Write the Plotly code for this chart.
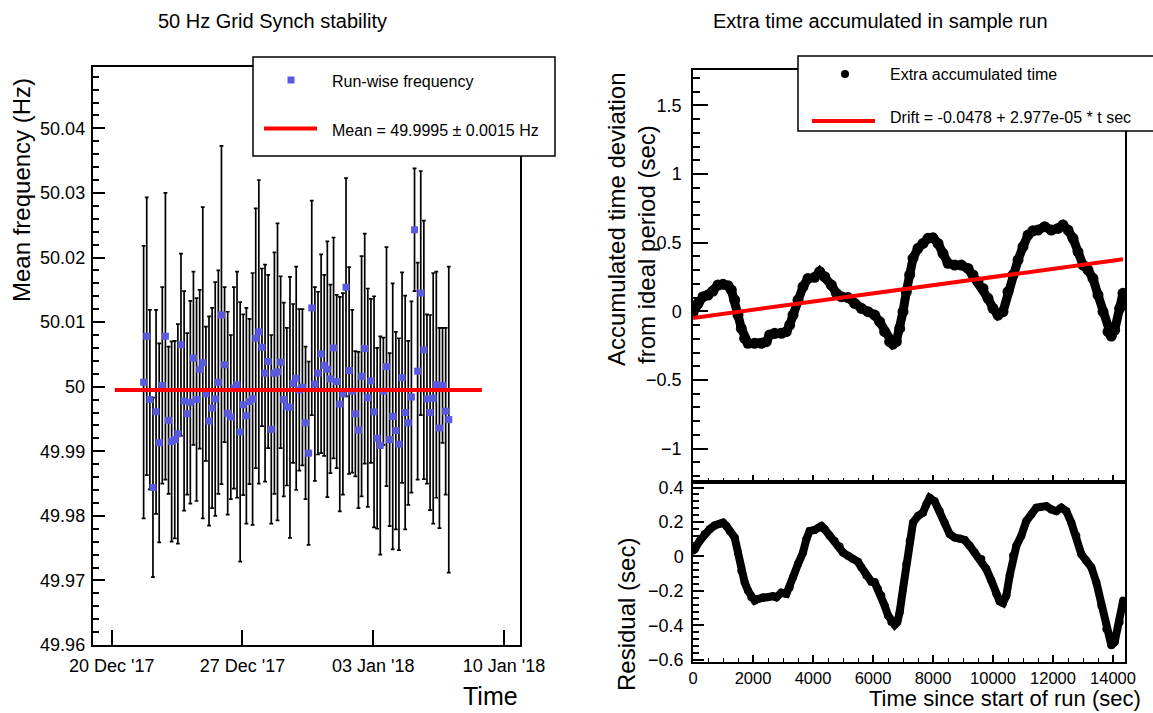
import plotly.graph_objects as go
import pandas as pd

W, H = 1153, 713

# ---------------- left panel data ----------------
run_start = "2017-12-21 17:00"
run_step = "4h"
freq = [50.0007, 50.0078, 49.9980, 49.9844, 49.9961, 49.9913, 50.0002, 50.0078, 49.9948, 49.9915,
        49.9918, 49.9927, 50.0065, 49.9978, 49.9958, 49.9976, 50.0044, 49.9980, 50.0027, 50.0037,
        49.9989, 49.9947, 49.9967, 49.9981, 50.0007, 50.0111, 50.0034, 49.9959, 49.9953, 49.9998,
        50.0003, 49.9930, 49.9972, 49.9955, 49.9977, 49.9981, 50.0075, 50.0085, 50.0061, 50.0021,
        50.0039, 49.9934, 50.0021, 50.0023, 50.0038, 49.9980, 49.9969, 49.9968, 50.0005, 50.0013,
        49.9995, 49.9999, 49.9944, 49.9897, 50.0122, 50.0004, 50.0021, 50.0051, 50.0033, 50.0027,
        50.0012, 50.0060, 50.0008, 49.9973, 49.9989, 50.0154, 50.0025, 49.9993, 49.9958, 49.9933,
        50.0016, 50.0059, 49.9983, 50.0009, 49.9961, 49.9920, 49.9909, 49.9993, 50.0031, 49.9918,
        49.9954, 49.9932, 49.9911, 50.0014, 49.9960, 49.9944, 49.9984, 50.0243, 50.0024, 50.0145,
        50.0057, 49.9981, 49.9960, 49.9982, 50.0003, 49.9936, 50.0002, 49.9962, 49.9949]
freq_err = [0.0211, 0.0215, 0.0139, 0.0139, 0.0158, 0.0154, 0.0152, 0.0222, 0.0114, 0.0155,
            0.0153, 0.0170, 0.0141, 0.0170, 0.0125, 0.0157, 0.0134, 0.0157, 0.0123, 0.0241,
            0.0104, 0.0162, 0.0155, 0.0181, 0.0173, 0.0262, 0.0120, 0.0157, 0.0127, 0.0156,
            0.0175, 0.0201, 0.0140, 0.0167, 0.0128, 0.0195, 0.0201, 0.0235, 0.0122, 0.0168,
            0.0134, 0.0146, 0.0187, 0.0230, 0.0133, 0.0150, 0.0122, 0.0202, 0.0123, 0.0173,
            0.0125, 0.0121, 0.0118, 0.0142, 0.0166, 0.0150, 0.0126, 0.0154, 0.0140, 0.0198,
            0.0146, 0.0171, 0.0134, 0.0166, 0.0156, 0.0169, 0.0160, 0.0126, 0.0097, 0.0121,
            0.0186, 0.0178, 0.0169, 0.0127, 0.0179, 0.0140, 0.0169, 0.0083, 0.0185, 0.0134,
            0.0206, 0.0153, 0.0164, 0.0163, 0.0181, 0.0127, 0.0148, 0.0095, 0.0168, 0.0189,
            0.0200, 0.0131, 0.0151, 0.0194, 0.0175, 0.0155, 0.0089, 0.0129, 0.0237]
mean_freq = 49.9995
mean_line_x = ["2017-12-20 04:00", "2018-01-08 19:30"]
date_ticks = ["2017-12-20", "2017-12-27", "2018-01-03", "2018-01-10"]
date_labels = ["20 Dec '17", "27 Dec '17", "03 Jan '18", "10 Jan '18"]
freq_ticks = [49.96, 49.97, 49.98, 49.99, 50.00, 50.01, 50.02, 50.03, 50.04]
freq_labels = ["49.96", "49.97", "49.98", "49.99", "50", "50.01", "50.02", "50.03", "50.04"]

# ---------------- right panel data ----------------
t_acc = [0, 167, 333, 500, 667, 833, 1000, 1167, 1278, 1389, 1500, 1611, 1722, 1833, 2056, 2278,
         2444, 2556, 2722, 2944, 3111, 3222, 3333, 3500, 3667, 3833, 4056, 4222, 4389, 4611, 4778,
         4944, 5167, 5389, 5611, 5833, 6056, 6222, 6389, 6556, 6667, 6778, 6889, 7000, 7111, 7222,
         7333, 7500, 7667, 7833, 8000, 8167, 8333, 8500, 8722, 8944, 9167, 9333, 9500, 9667, 9833,
         10000, 10167, 10333, 10500, 10667, 10833, 11000, 11167, 11333, 11500, 11722, 11944, 12167,
         12333, 12500, 12667, 12833, 13000, 13167, 13333, 13500, 13667, 13833, 13944, 14056, 14222,
         14333]
acc = [-0.01, 0.058, 0.107, 0.119, 0.148, 0.192, 0.197, 0.187, 0.155, 0.083, -0.027, -0.124,
       -0.197, -0.233, -0.233, -0.233, -0.221, -0.172, -0.160, -0.160, -0.148, -0.10, -0.027, 0.083,
       0.18, 0.24, 0.248, 0.289, 0.252, 0.192, 0.131, 0.107, 0.10, 0.058, 0.022, -0.002, -0.027,
       -0.075, -0.148, -0.221, -0.238, -0.221, -0.124, -0.002, 0.143, 0.265, 0.386, 0.459, 0.495,
       0.532, 0.536, 0.495, 0.422, 0.35, 0.337, 0.337, 0.313, 0.265, 0.216, 0.167, 0.095, 0.022,
       -0.027, -0.002, 0.143, 0.265, 0.374, 0.471, 0.556, 0.587, 0.592, 0.617, 0.592, 0.604, 0.629,
       0.592, 0.532, 0.434, 0.337, 0.301, 0.24, 0.119, -0.002, -0.148, -0.18, -0.136, 0.022, 0.131]
fit_a, fit_b = -0.0478, 2.977e-05
fit_t = [0, 14330]

t_res = [0, 56, 222, 389, 556, 722, 889, 1000, 1111, 1222, 1389, 1500, 1611, 1722, 1833, 1944,
         2056, 2167, 2333, 2500, 2667, 2778, 2944, 3111, 3222, 3333, 3500, 3667, 3778, 3889, 4056,
         4189, 4278, 4389, 4556, 4722, 4889, 5000, 5167, 5333, 5500, 5611, 5778, 5944, 6056, 6167,
         6278, 6389, 6500, 6611, 6722, 6811, 6889, 7000, 7111, 7222, 7333, 7500, 7667, 7778, 7889,
         8056, 8222, 8389, 8556, 8722, 8889, 9056, 9222, 9389, 9611, 9778, 9944, 10111, 10222,
         10333, 10444, 10556, 10667, 10778, 10944, 11111, 11278, 11444, 11611, 11778, 11944, 12111,
         12278, 12444, 12611, 12778, 12944, 13111, 13278, 13444, 13611, 13778, 13944, 14056, 14222,
         14340]
res = [0.035, 0.042, 0.09, 0.13, 0.158, 0.18, 0.19, 0.196, 0.177, 0.148, 0.11, 0.023, -0.083,
       -0.15, -0.198, -0.237, -0.256, -0.246, -0.237, -0.237, -0.23, -0.237, -0.21, -0.217, -0.18,
       -0.12, -0.044, 0.023, 0.1, 0.148, 0.154, 0.167, 0.177, 0.158, 0.12, 0.09, 0.058, 0.023,
       0.004, -0.015, -0.031, -0.063, -0.11, -0.146, -0.15, -0.188, -0.227, -0.285, -0.342, -0.38,
       -0.396, -0.38, -0.323, -0.188, -0.044, 0.09, 0.196, 0.235, 0.254, 0.302, 0.34, 0.32, 0.263,
       0.196, 0.13, 0.11, 0.104, 0.096, 0.062, 0.023, -0.015, -0.073, -0.14, -0.217, -0.26, -0.27,
       -0.227, -0.11, 0.004, 0.062, 0.12, 0.206, 0.244, 0.283, 0.288, 0.292, 0.273, 0.263, 0.283,
       0.263, 0.196, 0.12, 0.013, -0.025, -0.063, -0.15, -0.285, -0.42, -0.515, -0.496, -0.38,
       -0.256]

# ---------------- helpers ----------------
FONT = "Liberation Sans, Arial, sans-serif"


def px(x):
    return x / W


def py(y):
    return 1 - y / H


times = pd.date_range(run_start, periods=len(freq), freq=run_step)

fig = go.Figure()

# left: run-wise frequencies with error bars
fig.add_trace(go.Scatter(
    x=times, y=freq, mode="markers", xaxis="x", yaxis="y",
    marker=dict(symbol="square", size=7, color="#5a5ae0"),
    error_y=dict(type="data", array=freq_err, visible=True, color="black",
                 thickness=1.7, width=1.9),
    showlegend=False, hoverinfo="skip"))
fig.add_trace(go.Scatter(
    x=mean_line_x, y=[mean_freq, mean_freq], mode="lines", xaxis="x", yaxis="y",
    line=dict(color="#ff0000", width=4), showlegend=False, hoverinfo="skip"))

# right top: accumulated time + drift fit
fig.add_trace(go.Scatter(
    x=t_acc, y=acc, mode="lines+markers", xaxis="x2", yaxis="y2",
    line=dict(color="black", width=9), marker=dict(color="black", size=11),
    showlegend=False, hoverinfo="skip"))
fig.add_trace(go.Scatter(
    x=fit_t, y=[fit_a + fit_b * t for t in fit_t], mode="lines", xaxis="x2", yaxis="y2",
    line=dict(color="#ff0000", width=4), showlegend=False, hoverinfo="skip"))

# right bottom: residual
fig.add_trace(go.Scatter(
    x=t_res, y=res, mode="lines+markers", xaxis="x3", yaxis="y3",
    line=dict(color="black", width=8), marker=dict(color="black", size=8),
    showlegend=False, hoverinfo="skip"))

tick_font = dict(family=FONT, size=18, color="black")
frame = dict(showline=True, linecolor="black", linewidth=1.5, mirror=True,
             showgrid=False, zeroline=False, ticks="inside", tickcolor="black",
             tickwidth=1.5, automargin=False)

fig.update_layout(
    width=W, height=H, autosize=False,
    margin=dict(l=0, r=0, t=0, b=0, pad=0),
    paper_bgcolor="white", plot_bgcolor="white",
    font=dict(family=FONT, color="black"),
    hovermode=False,
    xaxis=dict(domain=[px(92.5), px(520)], anchor="y", type="date",
               range=["2017-12-18 23:20", "2018-01-10 20:30"],
               tickmode="array", tickvals=date_ticks, ticktext=date_labels,
               ticklen=15, ticklabelstandoff=4, tickfont=tick_font, **frame),
    yaxis=dict(domain=[py(645), py(67)], anchor="x", range=[49.96, 50.0495],
               tickmode="array", tickvals=freq_ticks, ticktext=freq_labels,
               ticklen=13, ticklabelstandoff=2, tickfont=tick_font,
               minor=dict(ticks="inside", ticklen=7, tickwidth=1.5, tickcolor="black",
                          dtick=0.002, tick0=49.96, showgrid=False),
               **frame),
    xaxis2=dict(domain=[px(693), px(1125)], anchor="y2", range=[0, 14400],
                dtick=2000, tick0=0, ticklen=7, showticklabels=False,
                minor=dict(ticks="inside", ticklen=4, tickwidth=1.2, tickcolor="black",
                           dtick=500, showgrid=False),
                **frame),
    yaxis2=dict(domain=[py(482), py(70)], anchor="x2", range=[-1.243, 1.758],
                dtick=0.5, tick0=0, ticklen=15, ticklabelstandoff=6, tickfont=tick_font,
                minor=dict(ticks="inside", ticklen=7, tickwidth=1.5, tickcolor="black",
                           dtick=0.1, tick0=0, showgrid=False),
                **frame),
    xaxis3=dict(domain=[px(693), px(1125)], anchor="y3", range=[0, 14400],
                dtick=2000, tick0=0, ticklen=7, tickformat="d", ticklabelstandoff=0,
                tickfont=dict(family=FONT, size=16.5, color="black"),
                minor=dict(ticks="inside", ticklen=4, tickwidth=1.2, tickcolor="black",
                           dtick=500, showgrid=False),
                **frame),
    yaxis3=dict(domain=[py(662), py(482)], anchor="x3", range=[-0.612, 0.432],
                dtick=0.2, tick0=0, ticklen=11, ticklabelstandoff=4, tickfont=tick_font,
                minor=dict(ticks="inside", ticklen=6, tickwidth=1.5, tickcolor="black",
                           dtick=0.04, tick0=0, showgrid=False),
                **frame),
)

shapes = []
annotations = []


def text(x, y, s, size, xanchor="left", yanchor="middle", angle=0):
    annotations.append(dict(x=px(x), y=py(y), xref="paper", yref="paper", text=s,
                            showarrow=False, xanchor=xanchor, yanchor=yanchor,
                            textangle=angle,
                            font=dict(family=FONT, size=size, color="black")))


# titles
text(272, 21, "50 Hz Grid Synch stability", 20, xanchor="center")
text(880, 21, "Extra time accumulated in sample run", 20, xanchor="center")

# axis titles
text(22, 190, "Mean frequency (Hz)", 24, xanchor="center", angle=-90)
text(520, 696, "Time", 25, xanchor="right")
text(616, 220, "Accumulated time deviation", 24, xanchor="center", angle=-90)
text(646, 245, "from ideal period (sec)", 24, xanchor="center", angle=-90)
text(626, 615, "Residual (sec)", 24, xanchor="center", angle=-90)
text(1143, 712.5, "Time since start of run (sec)", 22, xanchor="right", yanchor="bottom")

# left legend
shapes.append(dict(type="rect", xref="paper", yref="paper", x0=px(253), x1=px(555),
                   y0=py(156), y1=py(57), fillcolor="white",
                   line=dict(color="black", width=1.5), layer="above"))
shapes.append(dict(type="rect", xref="paper", yref="paper", x0=px(287.5), x1=px(294.5),
                   y0=py(83.5), y1=py(76.5), fillcolor="#5a5ae0",
                   line=dict(width=0), layer="above"))
shapes.append(dict(type="line", xref="paper", yref="paper", x0=px(264), x1=px(317),
                   y0=py(128.5), y1=py(128.5), line=dict(color="#ff0000", width=4),
                   layer="above"))
text(330, 81, "Run-wise frequency", 16)
text(330, 130, "Mean = 49.9995 ± 0.0015 Hz", 16)

# right legend
shapes.append(dict(type="rect", xref="paper", yref="paper", x0=px(798), x1=px(1160),
                   y0=py(131), y1=py(56), fillcolor="white",
                   line=dict(color="black", width=1.5), layer="above"))
shapes.append(dict(type="circle", xref="paper", yref="paper", x0=px(841), x1=px(849),
                   y0=py(78), y1=py(70), fillcolor="black",
                   line=dict(width=0), layer="above"))
shapes.append(dict(type="line", xref="paper", yref="paper", x0=px(812), x1=px(875),
                   y0=py(121), y1=py(121), line=dict(color="#ff0000", width=4),
                   layer="above"))
text(888, 75, "Extra accumulated time", 16)
text(888, 118, "Drift = -0.0478 + 2.977e-05 * t sec", 16)

fig.update_layout(shapes=shapes, annotations=annotations)

fig.write_html("out.html",
               config={"displayModeBar": False},
               post_script="document.body.style.margin='0px';"
                           "document.body.style.overflow='hidden';")
